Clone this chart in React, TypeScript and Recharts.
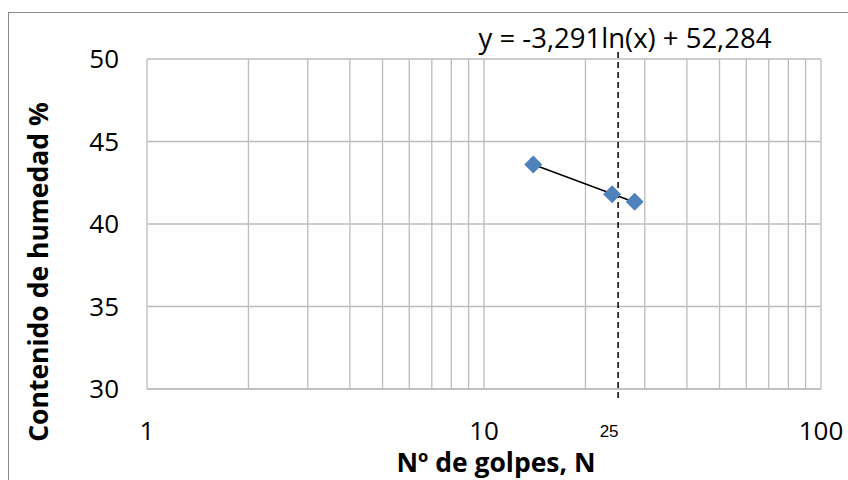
import React from 'react';
import {
  ComposedChart,
  Scatter,
  Line,
  XAxis,
  YAxis,
  CartesianGrid,
  ReferenceLine,
} from 'recharts';

const golpes = [14, 24, 28];
const humedad = [43.6, 41.8, 41.35];
const xTicks = [1, 10, 25, 100];
const xMajor = [1, 10, 100];
const yTicks = [30, 35, 40, 45, 50];
const xMinorGrid = [2, 3, 4, 5, 6, 7, 8, 9, 10, 20, 30, 40, 50, 60, 70, 80, 90, 100];
const trendA = -3.291;
const trendB = 52.284;
const limiteX = 25;
const limiteYRange = [50.43, 29.27];
const equationText = 'y = -3,291ln(x) + 52,284';
const xTitle = 'Nº de golpes, N';
const yTitle = 'Contenido de humedad %';

const points = golpes.map((g, i) => ({ x: g, y: humedad[i] }));
const xMin = Math.min(...golpes);
const xMax = Math.max(...golpes);
const trendData = [xMin, xMax].map((x) => ({ x, y: trendA * Math.log(x) + trendB }));

const FONT = '"Open Sans", sans-serif';
const GRID = '#bcbcbc';

const Diamond = (props: any) => {
  const { cx, cy } = props;
  const r = 9;
  return (
    <polygon
      points={`${cx},${cy - r} ${cx + r},${cy} ${cx},${cy + r} ${cx - r},${cy}`}
      fill="#4f81bd"
    />
  );
};

const XTick = (props: any) => {
  const { x, y, payload } = props;
  const v = payload.value;
  if (v === limiteX) {
    return (
      <text x={x - 9} y={y + 42} dy="0.36em" textAnchor="middle" fontFamily='"Liberation Sans", Arial, sans-serif' fontSize={17} fill="#000">
        {v}
      </text>
    );
  }
  if (!xMajor.includes(v)) return null;
  return (
    <text x={x} y={y + 42} dy="0.36em" textAnchor="middle" fontFamily={FONT} fontSize={26} fill="#000">
      {v}
    </text>
  );
};

const YTick = (props: any) => {
  const { x, y, payload } = props;
  return (
    <text x={x - 28} y={y} dy="0.36em" textAnchor="end" fontFamily={FONT} fontSize={26} fill="#000">
      {payload.value}
    </text>
  );
};

const XTitle = (props: any) => {
  const vb = props.viewBox || {};
  return (
    <text x={vb.x + vb.width / 2 + 12} y={vb.y + 73} dy="0.36em" textAnchor="middle" fontFamily={FONT} fontWeight="bold" fontSize={26.5} fill="#000">
      {xTitle}
    </text>
  );
};

const YTitle = () => {
  const cx = 30;
  const cy = 264;
  return (
    <text x={cx} y={cy} dy="0.36em" textAnchor="middle" transform={`rotate(-90 ${cx} ${cy})`} fontFamily={FONT} fontWeight="bold" fontSize={26.5} fill="#000">
      {yTitle}
    </text>
  );
};

const EqLabel = (props: any) => {
  const vb = props.viewBox || {};
  return (
    <text x={vb.x + 478} y={vb.y - 21} dy="0.36em" textAnchor="middle" fontFamily={FONT} fontSize={27.5} fill="#000">
      {equationText}
    </text>
  );
};

export default function App() {
  return (
    <div style={{ position: 'fixed', left: 0, top: 0, width: 848, height: 480, overflow: 'hidden', background: '#fff' }}>
      <div
        style={{
          position: 'absolute',
          left: 8,
          top: 12,
          width: 1000,
          height: 1000,
          borderTop: '1.5px solid #8a8a8a',
          borderLeft: '1.5px solid #8a8a8a',
        }}
      />
      <div style={{ position: 'absolute', left: 8, top: 8 }}>
        <ComposedChart width={840} height={472} margin={{ top: 51, right: 27, bottom: 0, left: 0 }}>
          <CartesianGrid vertical={false} stroke={GRID} strokeWidth={1.3} />
          <XAxis
            dataKey="x"
            type="number"
            scale="log"
            domain={[1, 100]}
            allowDataOverflow
            ticks={xTicks}
            interval={0}
            height={91}
            tickSize={0}
            tickMargin={0}
            tickLine={false}
            axisLine={{ stroke: GRID, strokeWidth: 1.3 }}
            tick={<XTick />}
            label={<XTitle />}
          />
          <YAxis
            type="number"
            domain={[30, 50]}
            ticks={yTicks}
            interval={0}
            width={139}
            tickSize={0}
            tickMargin={0}
            tickLine={false}
            axisLine={{ stroke: GRID, strokeWidth: 1.3 }}
            tick={<YTick />}
            label={<YTitle />}
          />
          {xMinorGrid.map((v) => (
            <ReferenceLine key={v} x={v} stroke={GRID} strokeWidth={1.3} />
          ))}
          <ReferenceLine y={50} stroke="none" label={<EqLabel />} />
          <Line
            data={trendData}
            dataKey="y"
            stroke="#000"
            strokeWidth={1.6}
            dot={false}
            isAnimationActive={false}
          />
          <Scatter data={points} dataKey="y" shape={<Diamond />} isAnimationActive={false} />
          <ReferenceLine
            segment={[
              { x: limiteX, y: limiteYRange[0] },
              { x: limiteX, y: limiteYRange[1] },
            ]}
            ifOverflow="visible"
            stroke="#000"
            strokeWidth={1.5}
            strokeDasharray="6 4"
          />
        </ComposedChart>
      </div>
    </div>
  );
}
